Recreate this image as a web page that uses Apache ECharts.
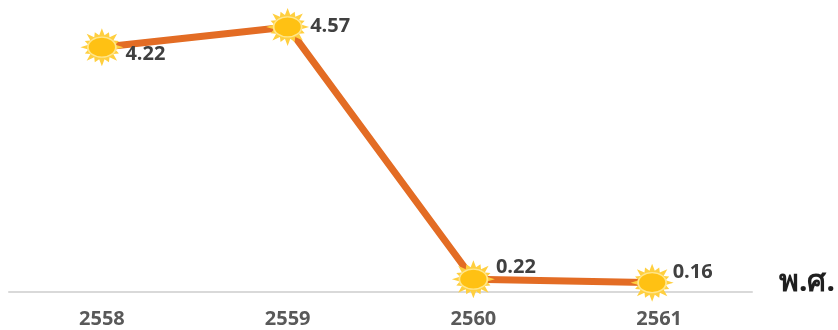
<!DOCTYPE html>
<html>
<head>
<meta charset="utf-8">
<style>html,body{margin:0;padding:0;background:#fff}#chart{width:838px;height:330px}</style>
<script src="https://cdn.jsdelivr.net/npm/echarts@6/dist/echarts.min.js"></script>
</head>
<body>
<div id="chart"></div>
<script>
const years = ['2558', '2559', '2560', '2561'];
const values = [4.22, 4.57, 0.22, 0.16];
const axisUnit = 'พ.ศ.';

// Sun outline: a ring of sharp rays around a centre, in a 100x100 box
function sunRaysPath(rays) {
  let d = '';
  for (let i = 0; i < rays * 2; i++) {
    const a = (i * Math.PI) / rays;
    const r = i % 2 === 0 ? (i % 4 === 0 ? 50 : 43) : 32;
    d += (i ? 'L' : 'M') + (50 + r * Math.cos(a)).toFixed(2) + ' ' + (50 + r * Math.sin(a)).toFixed(2);
  }
  return 'path://' + d + 'Z';
}

const labelOffsets = [[-3, 7], [-4, -1], [-4, -12], [-6, -10]];
const sunShift = [[0, 0], [0, 0], [0, 0], [-7, 0]];

const labelled = values.map((v, i) => ({
  value: v,
  symbolOffset: sunShift[i],
  label: { offset: labelOffsets[i] }
}));
const discs = values.map((v, i) => ({ value: v, symbolOffset: sunShift[i] }));

const chart = echarts.init(document.getElementById('chart'), null, { renderer: 'canvas' });
chart.setOption({
  animation: false,
  backgroundColor: '#fff',
  grid: { left: 9, right: 86, top: 2, bottom: 38 },
  xAxis: {
    type: 'category',
    data: years,
    boundaryGap: true,
    axisTick: { show: false },
    axisLine: { lineStyle: { color: '#D9D9D9', width: 2 } },
    axisLabel: {
      color: '#595959', fontFamily: 'Open Sans', fontWeight: 'bold', fontSize: 20, margin: 17
    },
    name: axisUnit,
    nameLocation: 'end',
    nameGap: 27,
    nameTextStyle: {
      color: '#1f1f1f', fontFamily: 'Noto Sans, DejaVu Sans', fontWeight: 'bold', fontSize: 30,
      verticalAlign: 'bottom', lineHeight: 20
    }
  },
  yAxis: { type: 'value', min: 0, max: 5, show: false },
  series: [
    {
      type: 'line',
      data: labelled,
      symbol: sunRaysPath(16),
      symbolSize: [43, 38],
      showAllSymbol: true,
      lineStyle: { color: '#E36C24', width: 7 },
      itemStyle: { color: '#FFCF3F', opacity: 1 },
      label: {
        show: true, position: 'right', color: '#404040',
        fontFamily: 'Open Sans', fontWeight: 'bold', fontSize: 20
      },
      z: 2
    },
    {
      type: 'line',
      data: discs,
      symbol: 'circle',
      symbolSize: [28, 20],
      showAllSymbol: true,
      lineStyle: { width: 0, opacity: 0 },
      itemStyle: { color: '#FFC113', borderColor: '#FFE68C', borderWidth: 1.5, opacity: 1 },
      silent: true,
      z: 3
    }
  ]
});
</script>
</body>
</html>
